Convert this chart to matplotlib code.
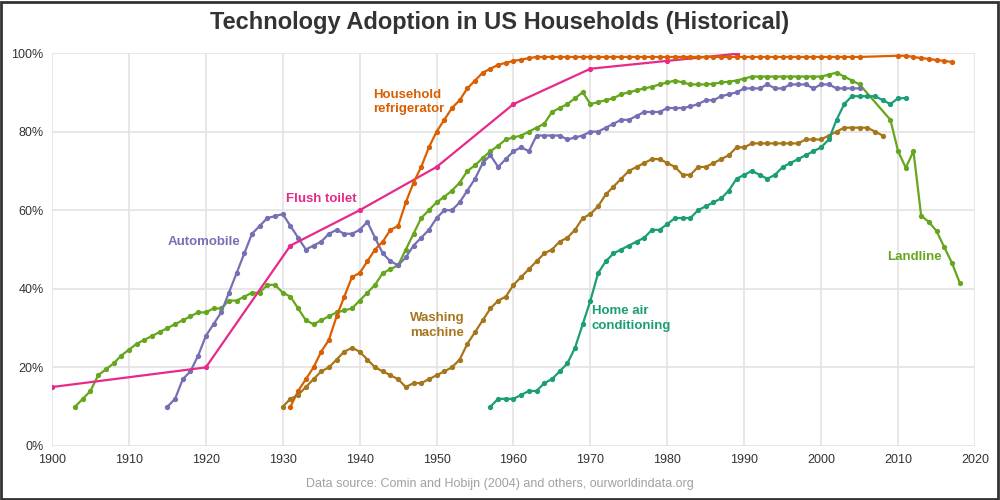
import numpy as np
import matplotlib
matplotlib.use("Agg")
import matplotlib.pyplot as plt
from matplotlib.patches import Rectangle

plt.rcParams["font.family"] = ["Liberation Sans", "DejaVu Sans"]

# ---- data ----
landline_years = list(range(1903, 2006)) + [2009, 2010, 2011, 2012, 2013, 2014, 2015, 2016, 2017, 2018]
landline_vals = [
    10, 12, 14, 18, 19.5, 21, 23, 24.5, 26, 27, 28, 29, 30, 31, 32, 33, 34, 34, 35, 35,
    37, 37, 38, 39, 39, 41, 41, 39, 38, 35, 32, 31, 32, 33, 34, 34.5, 35, 37, 39, 41,
    44, 45, 46, 50, 54, 58, 60, 62, 63.4, 65, 67, 70, 71.4, 73.3, 75, 76.4, 78, 78.5, 79, 80,
    81, 82, 85, 86, 87, 88.5, 90, 87, 87.5, 88, 88.5, 89.5, 90, 90.5, 91, 91.4, 92, 92.5,
    93, 92.5, 92, 92, 92, 92.2, 92.5, 92.7, 93, 93.5, 94, 94, 94, 94, 94, 94, 94, 94,
    94, 94, 94.5, 95, 94, 93, 92,
    83, 75, 70.8, 75, 58.6, 57, 54.7, 50.6, 46.6, 41.6,
]

auto_years = list(range(1915, 2006))
auto_vals = [
    10, 12, 17, 19, 23, 28, 31, 34, 39, 44, 49, 54, 56, 58, 58.5, 59, 56, 53, 50, 51,
    52, 54, 55, 54, 54, 55, 57, 53, 49, 47, 46, 48, 51, 53, 55, 58, 60, 60, 62, 65,
    68, 72, 74, 71, 73, 75, 76, 75, 79, 79, 79, 79, 78, 78.5, 79, 80, 80, 81, 82, 83,
    83, 84, 85, 85, 85, 86, 86, 86, 86.4, 87, 88, 88, 89, 89.5, 90, 91, 91, 91, 92, 91,
    91, 92, 92, 92, 91, 92, 92, 91, 91, 91, 91,
]

toilet_years = [1900, 1920, 1931, 1940, 1950, 1960, 1970, 1980, 1989]
toilet_vals = [15, 20, 51, 60, 71, 87, 96, 98, 99.8]

fridge_years = list(range(1931, 2006)) + [2010, 2011, 2012, 2013, 2014, 2015, 2016, 2017]
fridge_vals = [
    10, 14, 17, 20, 24, 27, 33, 38, 43, 44, 47, 50, 52, 55, 56, 62, 67, 71, 76, 80,
    83, 86, 88, 91, 93, 95, 96, 97, 97.5, 98, 98.3, 98.7,
] + [99] * 43 + [99.3, 99.3, 99, 98.7, 98.5, 98.2, 98, 97.7]

washer_years = list(range(1930, 2009))
washer_vals = [
    10, 12, 13, 15, 17, 19, 20, 22, 24, 25, 24, 22, 20, 19, 18, 17, 15, 16, 16, 17,
    18, 19, 20, 22, 26, 29, 32, 35, 37, 38, 41, 43, 45, 47, 49, 50, 52, 53, 55, 58,
    59, 61, 64, 66, 68, 70, 71, 72, 73, 73, 72, 71, 69, 69, 71, 71, 72, 73, 74, 76,
    76, 77, 77, 77, 77, 77, 77, 77, 78, 78, 78, 79, 80, 81, 81, 81, 81, 80, 79,
]

ac_years = list(range(1957, 2012))
ac_vals = [
    10, 12, 12, 12, 13, 14, 14, 16, 17, 19, 21, 25, 31, 37, 44, 47, 49, 50, 51, 52,
    53, 55, 55, 56.5, 58, 58, 58, 60, 61, 62, 63, 65, 68, 69, 70, 69, 68, 69, 71, 72,
    73, 74, 75, 76, 78, 83, 87, 89, 89, 89, 89, 88, 87, 88.5, 88.5,
]

series = [
    ("Landline", landline_years, landline_vals, "#66a61e"),
    ("Automobile", auto_years, auto_vals, "#7570b3"),
    ("Flush toilet", toilet_years, toilet_vals, "#e7298a"),
    ("Household refrigerator", fridge_years, fridge_vals, "#d95f02"),
    ("Washing machine", washer_years, washer_vals, "#a6761d"),
    ("Home air conditioning", ac_years, ac_vals, "#1b9e77"),
]

labels = [
    ("Automobile", 1915.1, 52, "#7570b3", "left"),
    ("Flush toilet", 1930.4, 62.8, "#e7298a", "left"),
    ("Household\nrefrigerator", 1941.7, 87.5, "#d95f02", "left"),
    ("Washing\nmachine", 1946.5, 30.7, "#a6761d", "left"),
    ("Home air\nconditioning", 1970.2, 32.5, "#1b9e77", "left"),
    ("Landline", 2012.1, 48.1, "#66a61e", "center"),
]


def main():
    fig = plt.figure(figsize=(10, 5), dpi=100)
    ax = fig.add_axes([0.052, 0.108, 0.923, 0.786])

    for name, yrs, vals, color in series:
        ax.plot(yrs, vals, color=color, lw=1.6, marker="o", ms=3.8,
                markeredgewidth=0, zorder=3)

    for text, x, y, color, ha in labels:
        ax.text(x, y, text, color=color, fontsize=9.5, fontweight="bold",
                ha=ha, va="center", linespacing=1.3, zorder=4)

    ax.set_xlim(1900, 2020)
    ax.set_ylim(0, 100)
    ax.set_xticks(range(1900, 2021, 10))
    ax.set_yticks(range(0, 101, 20))
    ax.set_yticklabels([f"{v}%" for v in range(0, 101, 20)])
    ax.grid(True, color="#e3e3e3", lw=1.2, zorder=0)
    for s in ax.spines.values():
        s.set_visible(False)
    ax.tick_params(length=0, labelsize=9, colors="#333333", pad=6)

    fig.text(0.5, 0.955, "Technology Adoption in US Households (Historical)",
             ha="center", va="center", fontsize=17, fontweight="bold", color="#333333")
    fig.text(0.5, 0.032, "Data source: Comin and Hobijn (2004) and others, ourworldindata.org",
             ha="center", va="center", fontsize=9, color="#a0a0a0")

    fig.patches.append(Rectangle((0.001, 0.002), 0.997, 0.995, transform=fig.transFigure,
                                 fill=False, edgecolor="#333333", lw=2))

    fig.savefig("out.png", dpi=100)
    plt.close(fig)


if __name__ == "__main__":
    main()
